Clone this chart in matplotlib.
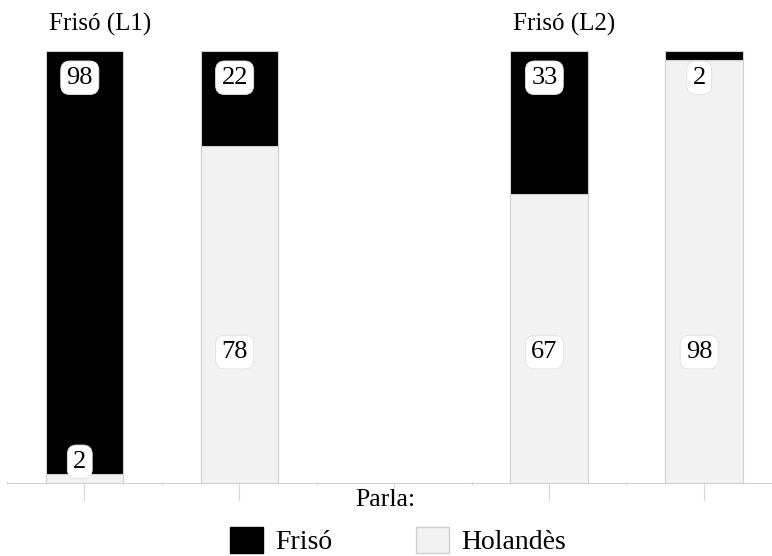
import matplotlib
matplotlib.use("Agg")
import matplotlib.pyplot as plt
import numpy as np
from matplotlib.patches import Patch

plt.rcParams['font.family'] = ['Liberation Serif', 'DejaVu Serif']

# Data
panels = ["Frisó (L1)", "Frisó (L2)"]
speaks = ["Frisó", "Holandès"]
positions = [0, 1, 3, 4]          # category slots (slot 2 empty)
friso_pct = [98, 22, 33, 2]
holandes_pct = [2, 78, 67, 98]

c_fri = "#000000"
c_hol = "#f2f2f2"
edge = "#cfcfcf"

fig = plt.figure(figsize=(7.72, 5.56), dpi=100)
ax = fig.add_axes([7 / 772, 73 / 556, 1 - 7 / 772, (483 - 51) / 556])

w = 0.5
ax.bar(positions, holandes_pct, width=w, color=c_hol, edgecolor=edge, linewidth=0.8)
ax.bar(positions, friso_pct, width=w, bottom=holandes_pct, color=c_fri, edgecolor=edge, linewidth=0.8)

ax.set_xlim(-0.5, 4.44)
ax.set_ylim(0, 100)

box = dict(boxstyle="round,pad=0.22,rounding_size=0.35", facecolor="white", edgecolor="#e0e0e0", linewidth=0.6)
for x, f, h in zip(positions, friso_pct, holandes_pct):
    ax.text(x - 0.03, 93.8, f"{f}", ha="center", va="center", fontsize=19, bbox=box)
    yh = min(30.3, h + 2.9)
    ax.text(x - 0.03, yh, f"{h}", ha="center", va="center", fontsize=19, bbox=box)

# panel titles
ax.text(positions[0] - w / 2 + 0.02, 103.5, panels[0], ha="left", va="bottom", fontsize=18)
ax.text(positions[2] - w / 2 + 0.02, 103.5, panels[1], ha="left", va="bottom", fontsize=18)

for s in ["top", "right", "left"]:
    ax.spines[s].set_visible(False)
ax.spines["bottom"].set_color("#d0d0d0")
ax.spines["bottom"].set_linewidth(0.8)
ax.set_yticks([])
ax.set_xticks([0, 1, 2, 3, 4])
ax.set_xticklabels([])
ax.tick_params(axis="x", which="major", length=13, color="#d8d8d8", width=0.8)
ax.set_xticks([-0.5, 0.5, 1.5, 2.5, 3.5], minor=True)
ax.tick_params(axis="x", which="minor", length=2, direction="inout", color="#b0b0b0", width=0.8)

fig.text(385 / 772, 1 - 500 / 556, "Parla:", ha="center", va="center", fontsize=18.5)

# legend
handles = [Patch(facecolor=c_fri, edgecolor=c_fri), Patch(facecolor=c_hol, edgecolor=edge)]
fig.legend(handles, speaks, loc="center", bbox_to_anchor=(398 / 772, 1 - 541 / 556), ncol=2,
           frameon=False, fontsize=20, handlelength=1.2, handleheight=1.1,
           columnspacing=3.0, handletextpad=0.45)

fig.savefig("out.png", dpi=100)
